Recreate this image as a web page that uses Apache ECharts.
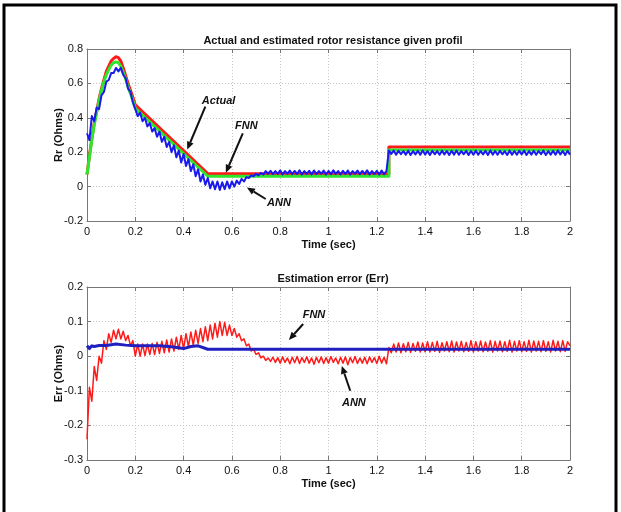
<!DOCTYPE html>
<html>
<head>
<meta charset="utf-8">
<script src="https://cdn.jsdelivr.net/npm/echarts@6/dist/echarts.min.js"></script>
<style>html,body{margin:0;padding:0;background:#fff}#c{width:621px;height:512px}</style>
</head>
<body>
<div id="c"></div>
<script>
// ---------- DATA ----------
const xTicks = [0, 0.2, 0.4, 0.6, 0.8, 1, 1.2, 1.4, 1.6, 1.8, 2];

// sampling grid for the oscillating estimates (sec)
const timeFine = [
0,0.01,0.02,0.03,0.04,0.05,0.06,0.07,0.08,0.09,
0.1,0.11,0.12,0.13,0.14,0.15,0.16,0.17,0.18,0.19,
0.2,0.21,0.22,0.23,0.24,0.25,0.26,0.27,0.28,0.29,
0.3,0.31,0.32,0.33,0.34,0.35,0.36,0.37,0.38,0.39,
0.4,0.41,0.42,0.43,0.44,0.45,0.46,0.47,0.48,0.49,
0.5,0.51,0.52,0.53,0.54,0.55,0.56,0.57,0.58,0.59,
0.6,0.61,0.62,0.63,0.64,0.65,0.66,0.67,0.68,0.69,
0.7,0.71,0.72,0.73,0.74,0.75,0.76,0.77,0.78,0.79,
0.8,0.81,0.82,0.83,0.84,0.85,0.86,0.87,0.88,0.89,
0.9,0.91,0.92,0.93,0.94,0.95,0.96,0.97,0.98,0.99,
1,1.01,1.02,1.03,1.04,1.05,1.06,1.07,1.08,1.09,
1.1,1.11,1.12,1.13,1.14,1.15,1.16,1.17,1.18,1.19,
1.2,1.21,1.22,1.23,1.24,1.25,1.26,1.27,1.28,1.29,
1.3,1.31,1.32,1.33,1.34,1.35,1.36,1.37,1.38,1.39,
1.4,1.41,1.42,1.43,1.44,1.45,1.46,1.47,1.48,1.49,
1.5,1.51,1.52,1.53,1.54,1.55,1.56,1.57,1.58,1.59,
1.6,1.61,1.62,1.63,1.64,1.65,1.66,1.67,1.68,1.69,
1.7,1.71,1.72,1.73,1.74,1.75,1.76,1.77,1.78,1.79,
1.8,1.81,1.82,1.83,1.84,1.85,1.86,1.87,1.88,1.89,
1.9,1.91,1.92,1.93,1.94,1.95,1.96,1.97,1.98,1.99,
2];

// breakpoints for the smooth Actual / FNN rotor resistance
const profTime = [0,0.01,0.02,0.03,0.04,0.05,0.06,0.07,0.08,0.09,0.1,0.11,0.12,0.13,0.14,0.15,0.16,0.17,0.18,0.19,0.2,0.5,1.25,1.25,2];
const rrActual = [0.07,0.18,0.28,0.37,0.44,0.51,0.57,0.62,0.67,0.70,0.73,0.745,0.755,0.75,0.73,0.69,0.645,0.60,0.56,0.52,0.475,0.075,0.075,0.23,0.23];
const rrFNN    = [0.07,0.17,0.27,0.36,0.43,0.50,0.56,0.61,0.65,0.68,0.705,0.72,0.725,0.72,0.70,0.665,0.625,0.58,0.54,0.50,0.455,0.06,0.06,0.213,0.213];

// ANN estimate of Rr (oscillating), on timeFine
const rrANN = [
0.31,0.27,0.41,0.38,0.46,0.45,0.53,0.55,0.61,0.62,
0.66,0.66,0.69,0.67,0.69,0.65,0.63,0.57,0.55,0.49,
0.45,0.41,0.43,0.38,0.40,0.35,0.37,0.32,0.34,0.29,
0.32,0.26,0.29,0.23,0.26,0.20,0.24,0.17,0.21,0.14,
0.19,0.12,0.16,0.09,0.13,0.06,0.10,0.03,0.07,0.01,
0.05,-0.01,0.03,-0.015,0.03,-0.02,0.025,-0.015,0.03,-0.01,
0.03,0.0,0.035,0.015,0.045,0.03,0.055,0.05,0.065,0.06,
0.075,0.065,0.08,0.07,0.09,0.075,0.092,0.072,0.09,0.074,
0.094,0.071,0.09,0.075,0.093,0.072,0.091,0.073,0.095,0.07,
0.09,0.074,0.092,0.071,0.094,0.073,0.09,0.075,0.093,0.07,
0.091,0.072,0.095,0.074,0.09,0.071,0.092,0.073,0.094,0.07,
0.09,0.075,0.093,0.072,0.091,0.074,0.095,0.071,0.09,0.073,
0.092,0.07,0.094,0.072,0.09,0.21,0.19,0.21,0.185,0.208,
0.188,0.207,0.186,0.209,0.184,0.206,0.187,0.208,0.185,0.21,
0.186,0.207,0.184,0.208,0.188,0.206,0.185,0.209,0.187,0.207,
0.184,0.208,0.186,0.21,0.185,0.206,0.188,0.208,0.184,0.207,
0.186,0.209,0.185,0.206,0.187,0.208,0.184,0.21,0.186,0.207,
0.185,0.208,0.188,0.206,0.184,0.209,0.186,0.207,0.185,0.208,
0.187,0.21,0.184,0.206,0.186,0.208,0.185,0.207,0.188,0.209,
0.184,0.206,0.186,0.208,0.185,0.21,0.187,0.207,0.184,0.208,
0.186];

// ANN estimation error (oscillating), on timeFine
const errANN = [
-0.24,-0.09,-0.13,-0.03,-0.07,0.0,-0.02,0.045,0.02,0.065,
0.04,0.075,0.05,0.078,0.05,0.072,0.045,0.06,0.03,0.045,
0.0,0.035,0.0,0.035,0.002,0.035,0.005,0.037,0.005,0.04,
0.008,0.043,0.01,0.047,0.012,0.05,0.015,0.055,0.02,0.06,
0.022,0.065,0.027,0.07,0.032,0.075,0.037,0.08,0.042,0.085,
0.045,0.09,0.05,0.095,0.055,0.1,0.06,0.098,0.06,0.09,
0.06,0.08,0.055,0.065,0.045,0.05,0.03,0.035,0.015,0.02,
0.005,0.01,-0.005,0.0,-0.012,-0.005,-0.015,-0.003,-0.018,-0.004,
-0.02,-0.002,-0.018,-0.005,-0.022,-0.003,-0.019,-0.001,-0.021,-0.004,
-0.018,-0.002,-0.02,-0.005,-0.023,-0.003,-0.019,-0.002,-0.021,-0.004,
-0.02,-0.001,-0.018,-0.005,-0.022,-0.003,-0.02,-0.002,-0.025,-0.004,
-0.019,-0.001,-0.021,-0.005,-0.02,-0.003,-0.022,-0.002,-0.018,-0.004,
-0.021,0.0,-0.02,-0.003,-0.022,0.025,0.01,0.035,0.012,0.038,
0.01,0.036,0.013,0.04,0.011,0.037,0.014,0.041,0.012,0.038,
0.013,0.042,0.012,0.04,0.014,0.043,0.011,0.039,0.015,0.042,
0.013,0.044,0.012,0.041,0.015,0.043,0.013,0.04,0.014,0.045,
0.012,0.042,0.015,0.044,0.013,0.041,0.014,0.045,0.012,0.043,
0.015,0.044,0.013,0.042,0.014,0.046,0.012,0.043,0.015,0.045,
0.013,0.042,0.014,0.046,0.012,0.044,0.015,0.043,0.013,0.045,
0.014,0.042,0.012,0.046,0.015,0.043,0.013,0.045,0.014,0.042,
0.03];

// FNN estimation error (smooth)
const errFNNTime = [0,0.01,0.02,0.03,0.05,0.08,0.12,0.16,0.2,0.3,0.35,0.4,0.43,0.46,0.5,2];
const errFNN     = [0.03,0.022,0.03,0.028,0.031,0.031,0.035,0.032,0.03,0.03,0.027,0.022,0.028,0.03,0.02,0.02];

// annotations [text, textT, textV, arrowFromT, arrowFromV, arrowToT, arrowToV]
const notesTop = [
  ['Actual', 0.545, 0.5, 0.49, 0.465, 0.415, 0.215],
  ['FNN', 0.66, 0.35, 0.645, 0.31, 0.575, 0.08],
  ['ANN', 0.795, -0.095, 0.74, -0.072, 0.662, -0.005]
];
const notesBot = [
  ['FNN', 0.94, 0.12, 0.895, 0.093, 0.836, 0.047],
  ['ANN', 1.105, -0.135, 1.09, -0.1, 1.055, -0.028]
];

// ---------- CHART ----------
const zip = (t, v) => t.map((x, i) => [x, v[i]]);
const FONT = '"Liberation Sans", Arial, sans-serif';
const chart = echarts.init(document.getElementById('c'), null, {renderer: 'canvas'});

function xAx(gi, pos, withLabels) {
  return {
    type: 'value', gridIndex: gi, position: pos, min: 0, max: 2, interval: 0.2,
    axisLine: {show: true, onZero: false, lineStyle: {color: '#777', width: 1}},
    axisTick: {show: true, inside: true, length: 4, lineStyle: {color: '#777'}},
    axisLabel: {show: withLabels, color: '#111', fontFamily: FONT, fontSize: 11, margin: 5},
    splitLine: {show: withLabels, lineStyle: {color: '#c4c4c4', type: [1, 2], width: 1}},
    name: withLabels ? 'Time (sec)' : '', nameLocation: 'middle', nameGap: 18,
    nameTextStyle: {color: '#111', fontFamily: FONT, fontSize: 11, fontWeight: 'bold'}
  };
}
function yAx(gi, pos, min, max, step, name, withLabels) {
  return {
    type: 'value', gridIndex: gi, position: pos, min: min, max: max, interval: step,
    axisLine: {show: true, onZero: false, lineStyle: {color: '#777', width: 1}},
    axisTick: {show: true, inside: true, length: 4, lineStyle: {color: '#777'}},
    axisLabel: {show: withLabels, color: '#111', fontFamily: FONT, fontSize: 11, margin: 4},
    splitLine: {show: withLabels, lineStyle: {color: '#c4c4c4', type: [1, 2], width: 1}},
    name: withLabels ? name : '', nameLocation: 'middle', nameGap: 23, nameRotate: 90,
    nameMoveOverlap: false,
    nameTextStyle: {color: '#111', fontFamily: FONT, fontSize: 11, fontWeight: 'bold'}
  };
}
function line(name, data, xi, yi, color, w, z) {
  return {
    name: name, type: 'line', xAxisIndex: xi, yAxisIndex: yi, data: data,
    showSymbol: false, symbol: 'none', animation: false, z: z,
    lineStyle: {color: color, width: w, join: 'round'}
  };
}

chart.setOption({
  animation: false,
  backgroundColor: '#fff',
  title: [
    {text: 'Actual and estimated rotor resistance given profil', left: 328, top: 30, textAlign: 'center',
     textStyle: {fontFamily: FONT, fontSize: 11, fontWeight: 'bold', color: '#111'}},
    {text: 'Estimation error (Err)', left: 328, top: 268, textAlign: 'center',
     textStyle: {fontFamily: FONT, fontSize: 11, fontWeight: 'bold', color: '#111'}}
  ],
  grid: [
    {left: 87, top: 49, width: 483, height: 172, containLabel: false},
    {left: 87, top: 287, width: 483, height: 173, containLabel: false}
  ],
  xAxis: [xAx(0, 'bottom', true), xAx(1, 'bottom', true), xAx(0, 'top', false), xAx(1, 'top', false)],
  yAxis: [
    yAx(0, 'left', -0.2, 0.8, 0.2, 'Rr (Ohms)', true),
    yAx(1, 'left', -0.3, 0.2, 0.1, 'Err (Ohms)', true),
    yAx(0, 'right', -0.2, 0.8, 0.2, '', false),
    yAx(1, 'right', -0.3, 0.2, 0.1, '', false)
  ],
  series: [
    line('Actual', zip(profTime, rrActual), 0, 0, '#ff1a1a', 3, 3),
    line('FNN', zip(profTime, rrFNN), 0, 0, '#2ee62e', 3, 4),
    line('ANN', zip(timeFine, rrANN), 0, 0, '#1a1aee', 2, 5),
    line('ANN error', zip(timeFine, errANN), 1, 1, '#ff1a1a', 1.5, 3),
    line('FNN error', zip(errFNNTime, errFNN), 1, 1, '#2020c0', 3, 4)
  ]
});

// annotations (text + arrows) positioned in data coordinates
const g = [];
function addNotes(list, xi, yi) {
  list.forEach(n => {
    const tp = chart.convertToPixel({xAxisIndex: xi, yAxisIndex: yi}, [n[1], n[2]]);
    const a = chart.convertToPixel({xAxisIndex: xi, yAxisIndex: yi}, [n[3], n[4]]);
    const b = chart.convertToPixel({xAxisIndex: xi, yAxisIndex: yi}, [n[5], n[6]]);
    g.push({type: 'text', x: tp[0], y: tp[1], z: 100,
      style: {text: n[0], fill: '#111', font: 'italic bold 11px ' + FONT, align: 'center', verticalAlign: 'middle'}});
    const dx = b[0] - a[0], dy = b[1] - a[1], L = Math.hypot(dx, dy), ux = dx / L, uy = dy / L;
    const hl = 8, hw = 3.5;
    const base = [b[0] - ux * hl, b[1] - uy * hl];
    g.push({type: 'line', z: 100, shape: {x1: a[0], y1: a[1], x2: base[0], y2: base[1]},
      style: {stroke: '#111', lineWidth: 2}});
    g.push({type: 'polygon', z: 100, shape: {points: [b, [base[0] - uy * hw, base[1] + ux * hw], [base[0] + uy * hw, base[1] - ux * hw]]},
      style: {fill: '#111'}});
  });
}
addNotes(notesTop, 0, 0);
addNotes(notesBot, 1, 1);
// outer frame of the figure
g.push({type: 'polyline', z: 100, shape: {points: [[4, 512], [4, 5], [616, 5], [616, 512]]},
  style: {stroke: '#000', lineWidth: 3, fill: null}});
chart.setOption({graphic: g});
</script>
</body>
</html>
